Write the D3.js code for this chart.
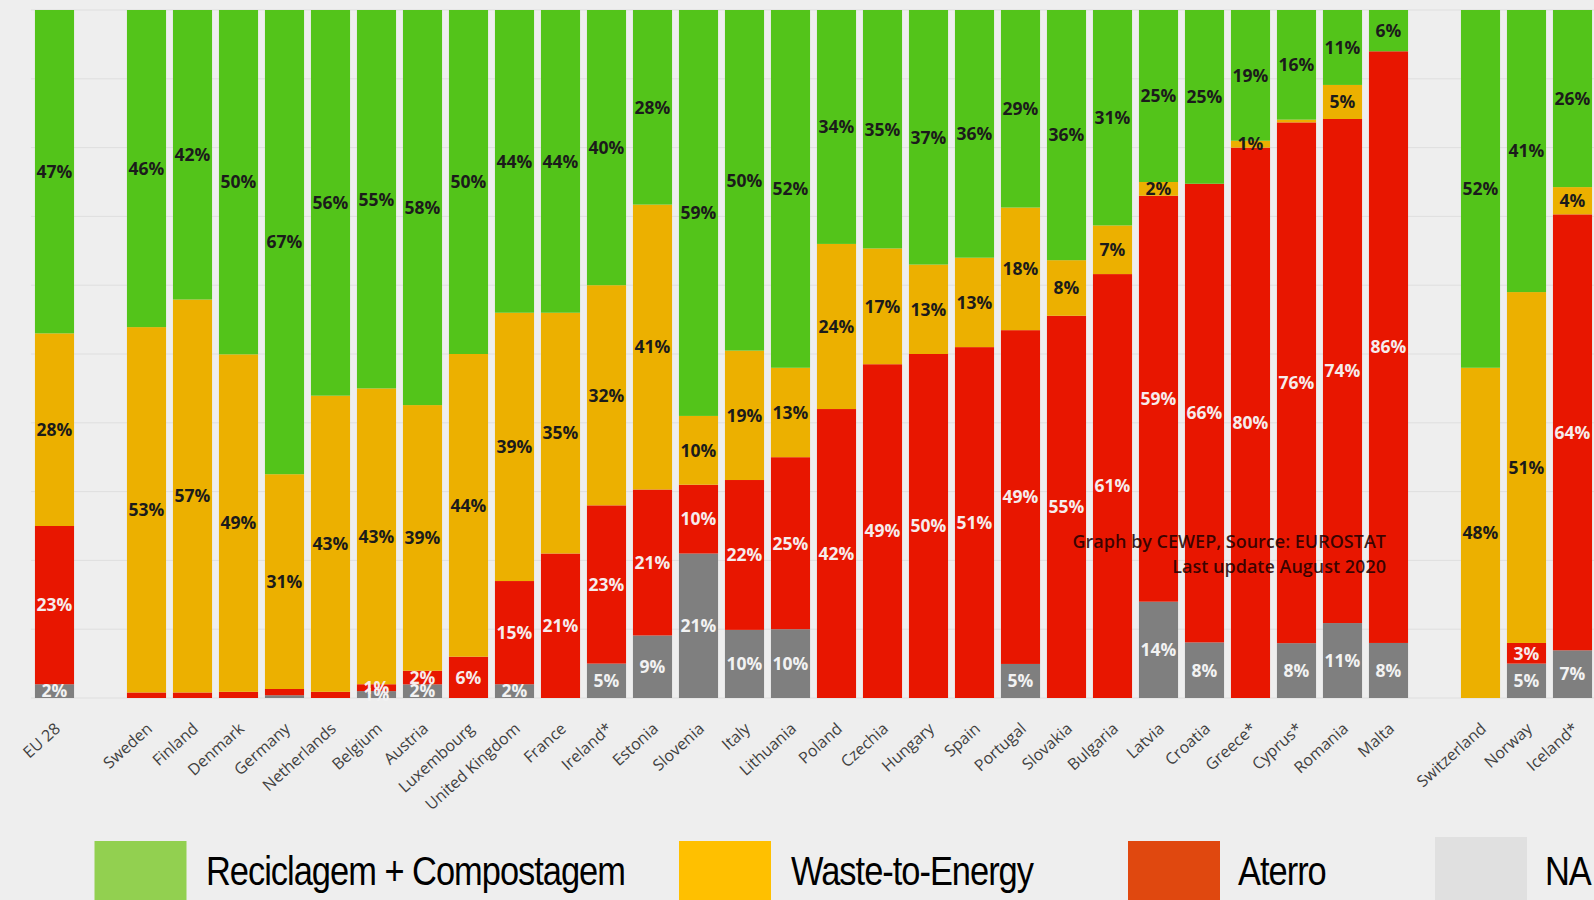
<!DOCTYPE html>
<html>
<head>
<meta charset="utf-8">
<script src="https://cdn.jsdelivr.net/npm/d3@7"></script>
<style>
  html, body { margin: 0; padding: 0; background: #eeeeee; }
  svg { display: block; }
</style>
</head>
<body>
<svg id="chart" width="1594" height="900"></svg>
<script>
// ---------------- DATA ----------------
const countries = ["EU 28","Sweden","Finland","Denmark","Germany","Netherlands","Belgium","Austria","Luxembourg","United Kingdom","France","Ireland*","Estonia","Slovenia","Italy","Lithuania","Poland","Czechia","Hungary","Spain","Portugal","Slovakia","Bulgaria","Latvia","Croatia","Greece*","Cyprus*","Romania","Malta","Switzerland","Norway","Iceland*"];
// slot order on the axis (gaps are empty slots)
const slots = ["EU 28","gap1","Sweden","Finland","Denmark","Germany","Netherlands","Belgium","Austria","Luxembourg","United Kingdom","France","Ireland*","Estonia","Slovenia","Italy","Lithuania","Poland","Czechia","Hungary","Spain","Portugal","Slovakia","Bulgaria","Latvia","Croatia","Greece*","Cyprus*","Romania","Malta","gap2","Switzerland","Norway","Iceland*"];
const recycling = [47,46,42,50,67,56,55,58,50,44,44,40,28,59,50,52,34,35,37,36,29,36,31,25,25,19,16,11,6,52,41,26];
const wasteToEnergy = [28,53,57,49,31,43,43,39,44,39,35,32,41,10,19,13,24,17,13,13,18,8,7,2,0,1,0.4,5,0,48,51,4];
const landfill = [23,0.8,0.8,0.9,0.9,0.9,1,2,6,15,21,23,21,10,22,25,42,49,50,51,49,55,61,59,66,80,76,74,86,0,3,64];
const notAvailable = [2,0,0,0,0.4,0,1,2,0,2,0,5,9,21,10,10,0,0,0,0,5,0,0,14,8,0,8,11,8,0,5,7];
const yTicks = [0,0.1,0.2,0.3,0.4,0.5,0.6,0.7,0.8,0.9,1];
const legendLabels = ["Reciclagem + Compostagem","Waste-to-Energy","Aterro","NA"];
const noteLines = ["Graph by CEWEP, Source: EUROSTAT","Last update August 2020"];

// ---------------- STYLE ----------------
const keys = ["na","landfill","wte","recycling"];           // bottom -> top
const barColor = {recycling:"#53c41a", wte:"#ecb000", landfill:"#e81600", na:"#7f7f7f"};
const labelColor = {recycling:"#1b1b1b", wte:"#1b1b1b", landfill:"#f6ecec", na:"#f2f2f2"};
const legendColor = ["#92d050","#ffc000","#e0480f","#e0e0e0"];

const table = countries.map((c,i) => ({
  country: c, recycling: recycling[i], wte: wasteToEnergy[i], landfill: landfill[i], na: notAvailable[i]
}));

const svg = d3.select("#chart");
const plotTop = 10, plotBottom = 698;

const x = d3.scaleBand().domain(slots).range([31.5, 1595.5]).paddingInner(0.15).paddingOuter(0.075);
const y = d3.scaleLinear().domain([0,1]).range([plotBottom, plotTop]);

// gridlines
svg.append("g")
  .selectAll("line").data(yTicks).join("line")
  .attr("x1", 31).attr("x2", 1594)
  .attr("y1", d => y(d)).attr("y2", d => y(d))
  .attr("stroke", "#dedede").attr("stroke-width", 1);

const series = d3.stack().keys(keys).offset(d3.stackOffsetExpand)(table);

const layers = svg.append("g").selectAll("g").data(series).join("g")
  .attr("fill", s => barColor[s.key]);

layers.selectAll("rect").data(s => s.map(d => ({d, key: s.key}))).join("rect")
  .attr("x", o => x(o.d.data.country))
  .attr("width", x.bandwidth())
  .attr("y", o => y(o.d[1]))
  .attr("height", o => Math.max(0, y(o.d[0]) - y(o.d[1])));

// value labels
const lbl = svg.append("g")
  .attr("font-family", "'Open Sans', 'DejaVu Sans', sans-serif")
  .attr("font-weight", 700).attr("font-size", 17.5).attr("text-anchor","middle");
series.forEach(s => {
  lbl.selectAll(null).data(s.filter(d => d.data[s.key] >= 1)).join("text")
    .attr("x", d => x(d.data.country) + x.bandwidth()/2)
    .attr("y", d => (y(d[0]) + y(d[1]))/2)
    .attr("dy", "0.36em")
    .attr("fill", labelColor[s.key])
    .text(d => Math.round(d.data[s.key]) + "%");
});

// x axis labels
const xAxis = svg.append("g").attr("transform", `translate(0,${plotBottom})`)
  .call(d3.axisBottom(x).tickSize(0).tickFormat(d => d.startsWith("gap") ? "" : d));
xAxis.select(".domain").remove();
xAxis.selectAll("text")
  .attr("font-family", "'Open Sans', 'DejaVu Sans', sans-serif")
  .attr("font-size", 16).attr("fill", "#404040")
  .attr("text-anchor", "end")
  .attr("dy", "0.35em")
  .attr("transform", "translate(3,28) rotate(-42)")
  .attr("x", 0).attr("y", 0);

// note
const note = svg.append("g")
  .attr("font-family", "'Open Sans', 'DejaVu Sans', sans-serif")
  .attr("font-size", 18).attr("font-weight", 600).attr("text-anchor","end")
  .attr("fill", "#1a0000").attr("fill-opacity", 0.85);
note.selectAll("text").data(noteLines).join("text")
  .attr("x", 1386).attr("y", (d,i) => 542 + i*25).attr("dy","0.35em").text(d => d);

// legend
const legendX = [94.5, 679, 1128, 1435];
const legendTextX = [206, 791, 1238, 1545];
const lg = svg.append("g");
lg.selectAll("rect").data(legendLabels).join("rect")
  .attr("x", (d,i) => legendX[i]).attr("y", (d,i) => i === 3 ? 837 : 841)
  .attr("width", 92).attr("height", 70)
  .attr("fill", (d,i) => legendColor[i]);
lg.selectAll("text").data(legendLabels).join("text")
  .attr("transform", (d,i) => `translate(${legendTextX[i]},885) scale(0.84,1)`)
  .attr("font-family", "'Liberation Sans', Arial, sans-serif")
  .attr("font-size", 41).attr("letter-spacing", -1.2).attr("fill", "#000")
  .text(d => d);
</script>
</body>
</html>
